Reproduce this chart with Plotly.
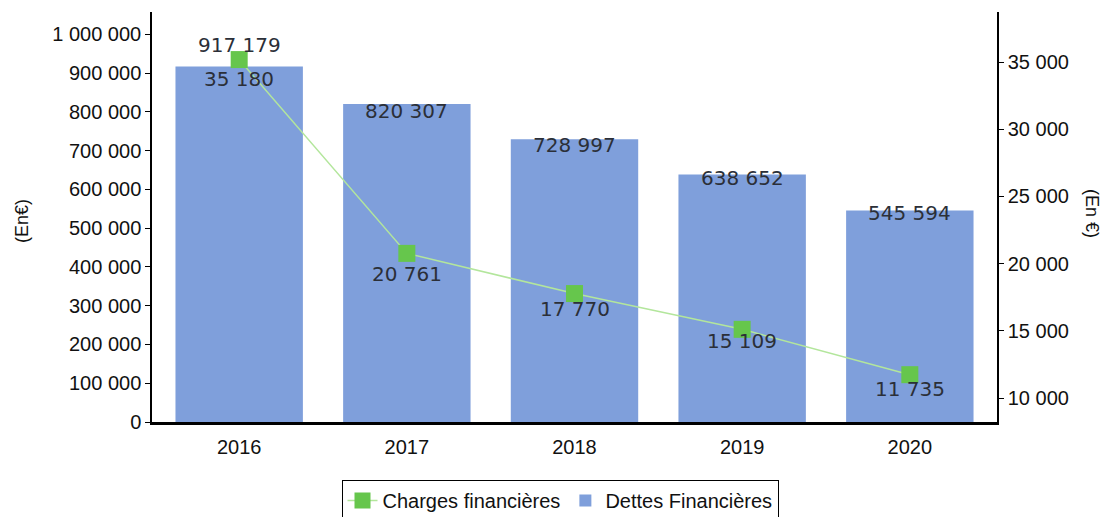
import plotly.graph_objects as go

years = ["2016", "2017", "2018", "2019", "2020"]
dettes = [917179, 820307, 728997, 638652, 545594]
charges = [35180, 20761, 17770, 15109, 11735]

bar_label_shift = [21, -7, -6, -4, -3]
line_label_shift = [-19, -21, -15, -12, -14]

BAR_COLOR = "#7f9fdb"
MARKER_COLOR = "#66c64c"
LINE_COLOR = "#b3e69c"
TXT = "#111111"


def fmt(v):
    return f"{v:,}".replace(",", " ")


# the page body has an 8px margin; compensate so the target pixel layout matches
OFF = 8
W, H = 1111 - OFF, 517 - OFF
L = 152 - OFF
T = 12 - OFF
R = W - (997 - OFF)
B = H - (422 - OFF)
pw, ph = W - L - R, H - T - B


def px_x(x):
    return (x - OFF - L) / pw


def px_y(y):
    return (H - B - (y - OFF)) / ph


fig = go.Figure()
fig.add_trace(go.Bar(
    x=years, y=dettes, name="Dettes Financières",
    marker=dict(color=BAR_COLOR, line=dict(width=0)),
    yaxis="y",
))
fig.add_trace(go.Scatter(
    x=years, y=charges, name="Charges financières",
    mode="lines+markers",
    line=dict(color=LINE_COLOR, width=1.5),
    marker=dict(color=MARKER_COLOR, size=17, symbol="square"),
    yaxis="y2",
))

annotations = []
for i, v in enumerate(dettes):
    annotations.append(dict(
        x=i, y=v, xref="x", yref="y", text=fmt(v), showarrow=False,
        yshift=bar_label_shift[i], xanchor="center", yanchor="middle",
        font=dict(family="DejaVu Sans", size=20, color="#2b2f38"),
    ))
for i, v in enumerate(charges):
    annotations.append(dict(
        x=i, y=v, xref="x", yref="y2", text=fmt(v), showarrow=False,
        yshift=line_label_shift[i], xanchor="center", yanchor="middle",
        font=dict(family="DejaVu Sans", size=20, color="#2b2f38"),
    ))

annotations.append(dict(
    x=px_x(10), y=px_y(221), xref="paper", yref="paper", text="(En€)",
    showarrow=False, textangle=-90,
    font=dict(family="Liberation Sans", size=18, color=TXT),
))
annotations.append(dict(
    x=px_x(1104), y=px_y(213), xref="paper", yref="paper", text="(En €)",
    showarrow=False, textangle=90,
    font=dict(family="Liberation Sans", size=18, color=TXT),
))

fig.update_layout(
    width=W, height=H,
    margin=dict(l=L, r=R, t=T, b=B, pad=0, autoexpand=False),
    paper_bgcolor="white", plot_bgcolor="white",
    separators=", ",
    bargap=0.24,
    font=dict(family="Liberation Sans", size=20, color=TXT),
    xaxis=dict(
        type="category", range=[-0.52, 4.52],
        showline=True, linecolor="black", linewidth=3,
        ticks="outside", ticklen=5, tickcolor="rgba(0,0,0,0)",
        showgrid=False, layer="below traces",
        tickfont=dict(size=20, color=TXT),
    ),
    yaxis=dict(
        range=[0, 1057500], tickvals=[i * 100000 for i in range(11)],
        tickformat=",d", showline=True, linecolor="black", linewidth=1.5,
        ticks="outside", ticklen=5, tickcolor="black", showgrid=False,
        zeroline=False, tickfont=dict(size=20, color=TXT),
    ),
    yaxis2=dict(
        overlaying="y", side="right", range=[8214, 38720],
        tickvals=[10000, 15000, 20000, 25000, 30000, 35000],
        tickformat=",d", showline=True, linecolor="black", linewidth=1.5,
        ticks="outside", ticklen=5, tickcolor="black", showgrid=False,
        zeroline=False, tickfont=dict(size=20, color=TXT),
    ),
    legend=dict(
        orientation="h", x=px_x(560), xanchor="center",
        y=px_y(480), yanchor="top",
        bordercolor="black", borderwidth=1,
        font=dict(size=20, color=TXT),
        traceorder="reversed",
    ),
    annotations=annotations,
    showlegend=True,
)

fig.write_html("out.html")
